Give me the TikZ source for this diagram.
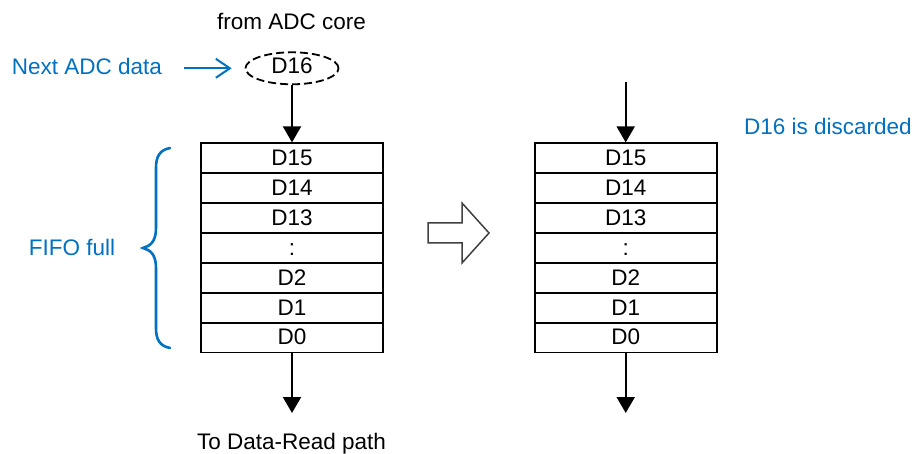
\documentclass[tikz,border=0pt]{standalone}
\usepackage{fontspec}
\setmainfont{Liberation Sans}
\usetikzlibrary{arrows.meta,shapes.geometric}
\definecolor{noteblue}{RGB}{0,112,192}
\begin{document}
\begin{tikzpicture}[x=1pt,y=-1pt,
  every node/.style={font=\fontsize{22.5}{26}\selectfont, inner sep=0pt},
  cell/.style={draw, line width=1.8pt, rectangle, minimum width=182pt,
    minimum height=29.9pt, text height=16.1pt, text depth=1.5pt},
  flow/.style={line width=2pt, -{Triangle[length=16pt,width=18pt]}},
  note/.style={text=noteblue},
  caption/.style={anchor=base}]
\useasboundingbox (0,0) rectangle (916,454);

% source entry waiting to be written
\node[caption] (src) at (291.5,29.5) {from ADC core};
\node[draw, ellipse, dashed, dash pattern=on 8pt off 4pt, line width=1.8pt,
  minimum width=93pt, minimum height=32pt, text height=16.1pt, text depth=5pt]
  (d16) at (292,68.3) {D16};
\node[caption, note] (next) at (87,74.5) {Next ADC data};
\draw[noteblue, line width=2pt, -{Straight Barb[length=14pt,width=19pt]},
  shorten <=22pt, shorten >=13pt] (next.east |- d16) -- (d16.west);

% FIFO before and after
\foreach \t [count=\i] in {D15,D14,D13,:,D2,D1,D0} {
  \node[cell] (L\i) at (292,{143.3+29.9*(\i-0.5)}) {\t};
  \node[cell] (R\i) at (625.7,{143.3+29.9*(\i-0.5)}) {\t};
}

% data flow through the left FIFO
\draw[flow] (d16.south) -- (L1.north);
\coordinate (Lout) at (292,413);
\draw[flow] (L7.south) -- (Lout);
\node[caption] (read) at (291.5,449) {To Data-Read path};

% data flow through the right FIFO
\coordinate (Rin) at (625.7,82);
\draw[flow] (Rin) -- (R1.north);
\coordinate (Rout) at (625.7,413);
\draw[flow] (R7.south) -- (Rout);
\node[caption, note] (disc) at (828,134.5) {D16 is discarded};

% brace marking the full FIFO
\draw[noteblue, line width=2.6pt, line cap=round]
  (170,148) .. controls (160,150) and (156,156) .. (156,168) -- (156,228)
  .. controls (156,242) and (150,246) .. (143,248)
  .. controls (150,250) and (156,254) .. (156,268) -- (156,328)
  .. controls (156,340) and (160,346) .. (170,348);
\node[caption, note] (full) at (72,255.5) {FIFO full};

% hollow arrow between the two states
\draw[line width=1.5pt, draw=black!75, fill=white]
  (428,223) -- (462,223) -- (462,203) -- (489,233) -- (462,263)
  -- (462,243) -- (428,243) -- cycle;
\end{tikzpicture}
\end{document}
